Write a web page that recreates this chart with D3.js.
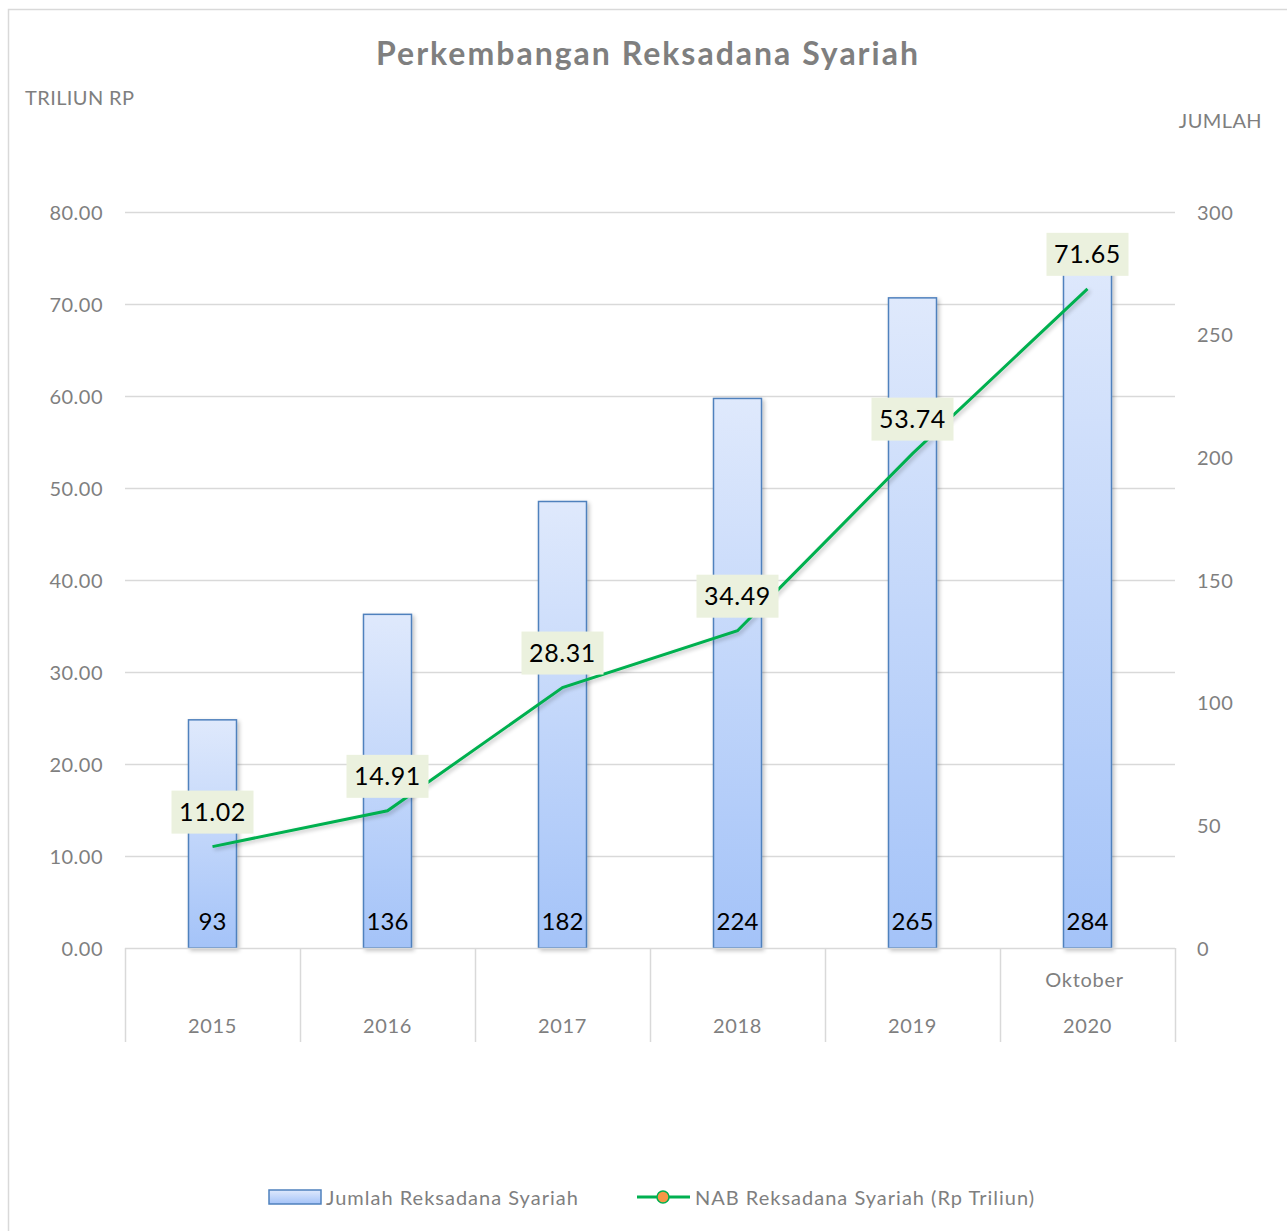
<!DOCTYPE html>
<html>
<head>
<meta charset="utf-8">
<title>Perkembangan Reksadana Syariah</title>
<script src="https://d3js.org/d3.v7.min.js"></script>
<style>
  body { margin: 0; background: #fff; }
  text { font-family: Lato, "Open Sans", sans-serif; }
  .tick text { fill: #7f7f7f; font-size: 20px; letter-spacing: 0.5px; }
</style>
</head>
<body>
<script>
var years = ["2015", "2016", "2017", "2018", "2019", "2020"];
var subLabels = ["", "", "", "", "", "Oktober"];
var jumlah = [93, 136, 182, 224, 265, 284];
var nab = [11.02, 14.91, 28.31, 34.49, 53.74, 71.65];
var leftTicks = [0, 10, 20, 30, 40, 50, 60, 70, 80];
var rightTicks = [0, 50, 100, 150, 200, 250, 300];

var W = 1287, H = 1231;
var plot = {left: 125, right: 1175, top: 212, bottom: 948};

var svg = d3.select("body").append("svg")
  .attr("width", W).attr("height", H);

var defs = svg.append("defs");
var grad = defs.append("linearGradient")
  .attr("id", "barGrad").attr("x1", 0).attr("y1", 0).attr("x2", 0).attr("y2", 1);
grad.append("stop").attr("offset", "0%").attr("stop-color", "#dfe9fc");
grad.append("stop").attr("offset", "100%").attr("stop-color", "#a4c3f8");

var shadow = defs.append("filter").attr("id", "shadow")
  .attr("x", "-20%").attr("y", "-20%").attr("width", "140%").attr("height", "140%");
shadow.append("feGaussianBlur").attr("in", "SourceAlpha").attr("stdDeviation", 2);
shadow.append("feOffset").attr("dx", 2).attr("dy", 2).attr("result", "b");
shadow.append("feComponentTransfer").append("feFuncA").attr("type", "linear").attr("slope", 0.25);
var m = shadow.append("feMerge");
m.append("feMergeNode");
m.append("feMergeNode").attr("in", "SourceGraphic");

// frame (runs off the right and bottom edges)
svg.append("rect")
  .attr("x", 8.5).attr("y", 9.5).attr("width", 1290).attr("height", 1240)
  .attr("fill", "#fff").attr("stroke", "#d9d9d9").attr("stroke-width", 1.5);

var x = d3.scaleBand().domain(years).range([plot.left, plot.right]);
var yL = d3.scaleLinear().domain([0, 80]).range([plot.bottom, plot.top]);
var yR = d3.scaleLinear().domain([0, 300]).range([plot.bottom, plot.top]);

// gridlines
svg.append("g")
  .selectAll("line").data(leftTicks.slice(1)).join("line")
  .attr("x1", plot.left).attr("x2", plot.right)
  .attr("y1", d => Math.round(yL(d)) + 0.5).attr("y2", d => Math.round(yL(d)) + 0.5)
  .attr("stroke", "#d9d9d9").attr("stroke-width", 1.5);

// left axis
var gL = svg.append("g").attr("transform", "translate(" + (plot.left - 22) + ",0)")
  .call(d3.axisLeft(yL).tickValues(leftTicks).tickFormat(d3.format(".2f")).tickSize(0).tickPadding(0));
gL.select(".domain").remove();
gL.selectAll(".tick text").attr("dy", "0.35em");

// right axis
var gR = svg.append("g").attr("transform", "translate(" + (plot.right + 22) + ",0)")
  .call(d3.axisRight(yR).tickValues(rightTicks).tickSize(0).tickPadding(0));
gR.select(".domain").remove();
gR.selectAll(".tick text").attr("dy", "0.35em");

// bars
var barW = 48;
svg.append("g").selectAll("rect").data(jumlah).join("rect")
  .attr("x", (d, i) => x(years[i]) + x.bandwidth() / 2 - barW / 2)
  .attr("y", d => yR(d))
  .attr("width", barW)
  .attr("height", d => yR(0) - yR(d))
  .attr("fill", "url(#barGrad)")
  .attr("stroke", "#4f81bd").attr("stroke-width", 1.5)
  .attr("filter", "url(#shadow)");

// category axis
svg.append("line")
  .attr("x1", plot.left).attr("x2", plot.right)
  .attr("y1", plot.bottom + 0.5).attr("y2", plot.bottom + 0.5)
  .attr("stroke", "#d9d9d9").attr("stroke-width", 1.5);
var seps = years.map(d => x(d)).concat([plot.right]);
svg.append("g").selectAll("line").data(seps).join("line")
  .attr("x1", d => d + 0.5).attr("x2", d => d + 0.5)
  .attr("y1", plot.bottom).attr("y2", plot.bottom + 94)
  .attr("stroke", "#d9d9d9").attr("stroke-width", 1.5);
svg.append("g").selectAll("text").data(years).join("text")
  .attr("x", d => x(d) + x.bandwidth() / 2).attr("y", 1033)
  .attr("text-anchor", "middle").attr("fill", "#7f7f7f").attr("font-size", 20)
  .attr("letter-spacing", 0.7)
  .text(d => d);
svg.append("g").selectAll("text").data(subLabels).join("text")
  .attr("x", (d, i) => x(years[i]) + x.bandwidth() / 2 - 3).attr("y", 987)
  .attr("text-anchor", "middle").attr("fill", "#7f7f7f").attr("font-size", 20)
  .attr("letter-spacing", 0.7)
  .text(d => d);

// bar labels
svg.append("g").selectAll("text").data(jumlah).join("text")
  .attr("x", (d, i) => x(years[i]) + x.bandwidth() / 2).attr("y", 930)
  .attr("text-anchor", "middle").attr("fill", "#000").attr("font-size", 24)
  .text(d => d);

// line
var line = d3.line()
  .x((d, i) => x(years[i]) + x.bandwidth() / 2)
  .y(d => yL(d));
svg.append("path").datum(nab)
  .attr("d", line).attr("fill", "none")
  .attr("stroke", "#00b050").attr("stroke-width", 3)
  .attr("filter", "url(#shadow)");

// line labels
var lab = svg.append("g").selectAll("g").data(nab).join("g")
  .attr("transform", (d, i) => "translate(" + (x(years[i]) + x.bandwidth() / 2) + "," + (yL(d) - 35) + ")");
lab.append("rect")
  .attr("x", -41).attr("y", -21).attr("width", 82).attr("height", 43)
  .attr("fill", "#ebf1de");
lab.append("text")
  .attr("y", 9).attr("text-anchor", "middle").attr("font-size", 25).attr("fill", "#000")
  .attr("letter-spacing", 0.6)
  .text(d => d.toFixed(2));

// title and axis titles
svg.append("text").attr("x", 648).attr("y", 65).attr("text-anchor", "middle")
  .attr("font-size", 32).attr("font-weight", "bold").attr("fill", "#7f7f7f")
  .attr("letter-spacing", 2)
  .text("Perkembangan Reksadana Syariah");
svg.append("text").attr("x", 25).attr("y", 105)
  .attr("font-size", 20).attr("fill", "#7f7f7f").attr("letter-spacing", 0.4).text("TRILIUN RP");
svg.append("text").attr("x", 1262).attr("y", 128).attr("text-anchor", "end")
  .attr("font-size", 20).attr("fill", "#7f7f7f").attr("letter-spacing", 0.4).text("JUMLAH");

// legend
var lg = svg.append("g").attr("transform", "translate(0,1197)");
lg.append("rect").attr("x", 269).attr("y", -7).attr("width", 52).attr("height", 14)
  .attr("fill", "url(#barGrad)").attr("stroke", "#4f81bd").attr("stroke-width", 1.5);
lg.append("text").attr("x", 326).attr("y", 8).attr("font-size", 20).attr("fill", "#7f7f7f")
  .attr("letter-spacing", 1)
  .text("Jumlah Reksadana Syariah");
lg.append("line").attr("x1", 637).attr("x2", 690).attr("y1", 0).attr("y2", 0)
  .attr("stroke", "#00b050").attr("stroke-width", 3);
lg.append("circle").attr("cx", 663).attr("cy", 0).attr("r", 6)
  .attr("fill", "#f79646").attr("stroke", "#00b050").attr("stroke-width", 1.5);
lg.append("text").attr("x", 695).attr("y", 8).attr("font-size", 20).attr("fill", "#7f7f7f")
  .attr("letter-spacing", 1)
  .text("NAB Reksadana Syariah (Rp Triliun)");
</script>
</body>
</html>
